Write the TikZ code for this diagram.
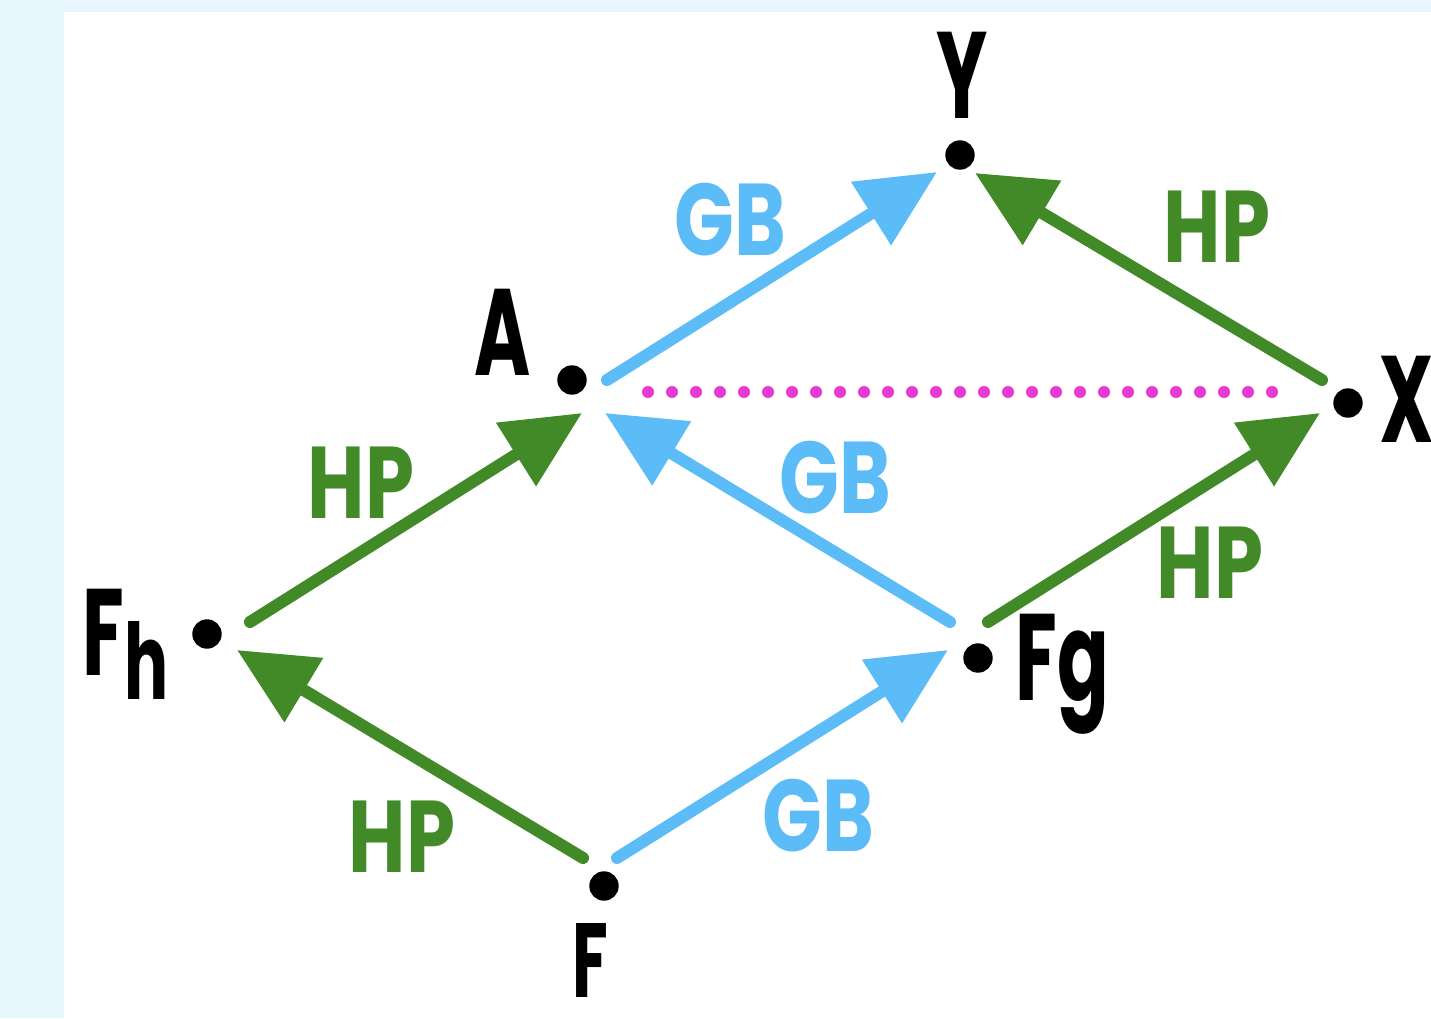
\documentclass[tikz,border=0pt]{standalone}
\usepackage{fontspec}
\setmainfont{Poppins}
\newfontfamily\ptfont[FakeStretch=0.62]{Poppins}
\newfontfamily\mapfont[FakeStretch=0.77]{Poppins}
\usetikzlibrary{arrows.meta}

\definecolor{gbblue}{HTML}{5BBCF8}
\definecolor{hpgreen}{HTML}{418A27}
\definecolor{dotpink}{HTML}{E83AD2}
\definecolor{pagebg}{HTML}{E8F6FD}

\newcommand*{\lowsub}[1]{\raisebox{-0.24cm}{\fontsize{30}{32}\selectfont #1}}

\begin{document}
\begin{tikzpicture}
[
	dot/.style={circle,draw,fill,inner sep=0pt,minimum size=0.28cm},
	ptlabel/.style={font=\ptfont\fontsize{35}{40}\selectfont\bfseries,inner sep=0pt},
	maplabel/.style={font=\mapfont\fontsize{29}{32}\selectfont\bfseries,inner sep=0pt},
	gbarrow/.style={gbblue,line width=0.12cm,line cap=round,-{Triangle[length=0.78cm,width=0.72cm]}},
	hparrow/.style={hpgreen,line width=0.12cm,line cap=round,-{Triangle[length=0.78cm,width=0.72cm]}}
]

	% background
	\fill[pagebg] (0,0) rectangle (14.31,10.18);
	\fill[white] (0.64,0) rectangle (14.31,10.06);
	\useasboundingbox (0,0) rectangle (14.31,10.18);

	% points
	\node[dot] (Y) at (9.60,8.63) {};
	\node[dot] (A) at (5.72,6.38) {};
	\node[dot] (X) at (13.48,6.15) {};
	\node[dot] (Fh) at (2.07,3.84) {};
	\node[dot] (Fg) at (9.78,3.60) {};
	\node[dot] (F) at (6.04,1.32) {};

	\node[ptlabel] (labY) at (9.62,9.43) {Y};
	\node[ptlabel] (labA) at (5.03,6.86) {A};
	\node[ptlabel] (labX) at (14.07,6.19) {X};
	\node[ptlabel,anchor=base west] (labFh) at (0.82,3.43) {F\lowsub{h}};
	\node[ptlabel,anchor=base west] (labFg) at (10.15,3.18) {Fg};
	\node[ptlabel,font=\ptfont\fontsize{30}{34}\selectfont\bfseries] (labF) at (5.90,0.58) {F};

	% maps
	\draw[gbarrow] ([shift={(0.35,0)}]A.center) -- ([shift={(-0.23,-0.17)}]Y.center);
	\draw[hparrow] ([shift={(-0.26,0.23)}]X.center) -- ([shift={(0.15,-0.18)}]Y.center);
	\draw[hparrow] ([shift={(0.43,0.12)}]Fh.center) -- ([shift={(0.10,-0.33)}]A.center);
	\draw[gbarrow] ([shift={(-0.28,0.36)}]Fg.center) -- ([shift={(0.33,-0.33)}]A.center);
	\draw[hparrow] ([shift={(0.10,0.36)}]Fg.center) -- ([shift={(-0.28,-0.10)}]X.center);
	\draw[hparrow] ([shift={(-0.21,0.28)}]F.center) -- ([shift={(0.30,-0.16)}]Fh.center);
	\draw[gbarrow] ([shift={(0.13,0.28)}]F.center) -- ([shift={(-0.30,0.08)}]Fg.center);

	\draw[dotpink,line width=0.12cm,line cap=round,dash pattern=on 0pt off 0.2400cm]
	  ([shift={(0.76,-0.12)}]A.center) -- ([shift={(-0.73,0.11)}]X.center);

	\node[maplabel,gbblue] (gbAY) at (7.30,7.98) {GB};
	\node[maplabel,hpgreen] (hpXY) at (12.17,7.91) {HP};
	\node[maplabel,hpgreen] (hpFhA) at (3.61,5.35) {HP};
	\node[maplabel,gbblue] (gbFgA) at (8.35,5.40) {GB};
	\node[maplabel,hpgreen] (hpFgX) at (12.10,4.55) {HP};
	\node[maplabel,hpgreen] (hpFFh) at (4.02,1.81) {HP};
	\node[maplabel,gbblue] (gbFFg) at (8.18,2.02) {GB};

\end{tikzpicture}
\end{document}
